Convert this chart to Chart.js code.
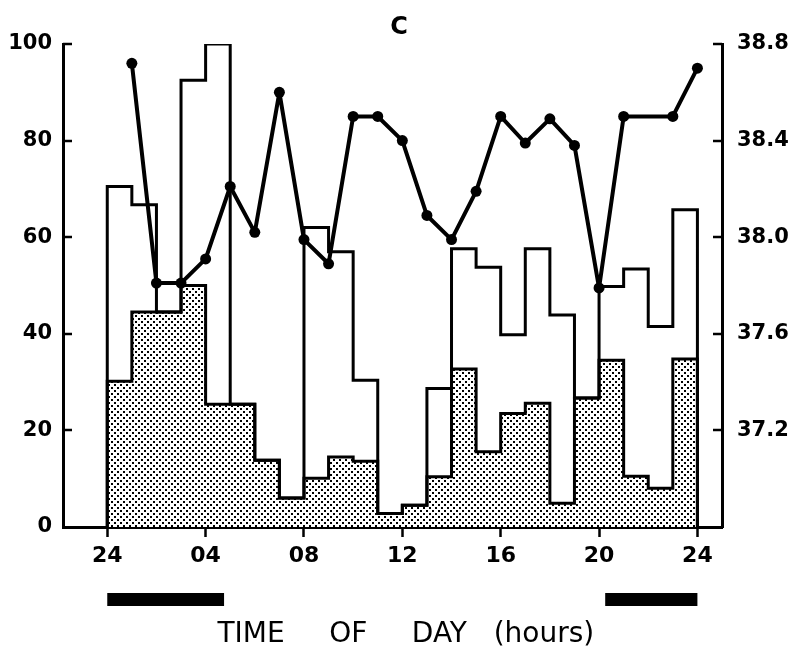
<!DOCTYPE html>
<html><head><meta charset="utf-8">
<script src="https://cdn.jsdelivr.net/npm/chart.js@4.4.0/dist/chart.umd.min.js"></script>
<style>html,body{margin:0;padding:0;background:#fff;}</style>
</head><body>
<canvas id="c" width="798" height="657"></canvas>
<script>
// ---- data ----
const binStartHours = [0,1,2,3,4,5,6,7,8,9,10,11,12,13,14,15,16,17,18,19,20,21,22,23];
const totalCounts  = [70.5,66.7,44.5,92.5,100,25.4,13.8,6.0,62.0,57.0,30.4,2.8,4.5,28.7,57.6,53.8,39.8,57.6,43.9,26.7,49.8,53.4,41.5,65.7];
const shadedCounts = [30.2,44.5,44.5,50.0,25.4,25.4,13.8,6.0,10.1,14.5,13.6,2.8,4.5,10.4,32.7,15.6,23.5,25.6,4.9,26.7,34.5,10.5,8.0,34.8];
const tempHours    = [1,2,3,4,5,6,7,8,9,10,11,12,13,14,15,16,17,18,19,20,21,23,24];
const temperatures = [38.72,37.81,37.81,37.91,38.21,38.02,38.60,37.99,37.89,38.50,38.50,38.40,38.09,37.99,38.19,38.50,38.39,38.49,38.38,37.79,38.50,38.50,38.70];
const xTickValues  = [0,4,8,12,16,20,24];
const xTickLabels  = ['24','04','08','12','16','20','24'];
const darkPeriods  = [[0,4.75],[20.25,24]];
const panelTitle   = 'C';
const xAxisTitle   = '   TIME     OF     DAY   (hours)';

// ---- helpers ----
function stepOutline(values){
  const last = binStartHours.length - 1;
  const pts = [{x: binStartHours[0], y: 0}];
  values.forEach((v,i) => pts.push({x: binStartHours[i], y: v}));
  pts.push({x: binStartHours[last] + 1, y: values[last]});
  pts.push({x: binStartHours[last] + 1, y: 0});
  return pts;
}
function stipple(){
  const c = document.createElement('canvas');
  c.width = 6; c.height = 6;
  const g = c.getContext('2d');
  g.fillStyle = '#fff'; g.fillRect(0,0,6,6);
  g.fillStyle = '#000';
  g.fillRect(0,0,2,2); g.fillRect(3,3,2,2);
  return g.createPattern(c,'repeat');
}
const pattern = stipple();

const extras = {
  id: 'extras',
  afterDraw(chart){
    const ctx = chart.ctx, ca = chart.chartArea;
    const x = chart.scales.x, y = chart.scales.y, y2 = chart.scales.y2;
    ctx.save();
    ctx.strokeStyle = '#000'; ctx.lineWidth = 2.5; ctx.lineCap = 'butt';
    y.ticks.forEach(t => {
      if (t.value <= 0) return;
      const py = Math.round(y.getPixelForValue(t.value));
      ctx.beginPath(); ctx.moveTo(ca.left, py); ctx.lineTo(ca.left + 9, py); ctx.stroke();
    });
    y2.ticks.forEach(t => {
      if (t.value < 37) return;
      const py = Math.round(y2.getPixelForValue(t.value));
      ctx.beginPath(); ctx.moveTo(ca.right, py); ctx.lineTo(ca.right - 9, py); ctx.stroke();
    });
    ctx.fillStyle = '#000';
    darkPeriods.forEach(([a,b]) => {
      const xa = x.getPixelForValue(a), xb = x.getPixelForValue(b);
      ctx.fillRect(xa, ca.bottom + 66, xb - xa, 13);
    });
    ctx.restore();
  }
};

Chart.defaults.font.family = 'DejaVu Sans';
Chart.defaults.color = '#000';

new Chart(document.getElementById('c'), {
  type: 'line',
  data: {
    datasets: [
      {
        label: 'Body temperature',
        yAxisID: 'y2',
        data: tempHours.map((h,i) => ({x: h, y: temperatures[i]})),
        borderColor: '#000', borderWidth: 4, borderJoinStyle: 'round', borderCapStyle: 'round',
        pointRadius: 5.5, pointBackgroundColor: '#000', pointBorderColor: '#000', pointBorderWidth: 0,
        tension: 0, fill: false, order: 0
      },
      {
        label: 'Total',
        yAxisID: 'y',
        data: stepOutline(totalCounts),
        stepped: 'before',
        borderColor: '#000', borderWidth: 3, borderJoinStyle: 'miter',
        pointRadius: 0, fill: false, order: 1
      },
      {
        label: 'Shaded',
        yAxisID: 'y',
        data: stepOutline(shadedCounts),
        stepped: 'before',
        borderColor: '#000', borderWidth: 3, borderJoinStyle: 'miter',
        backgroundColor: pattern,
        pointRadius: 0, fill: 'origin', order: 2
      }
    ]
  },
  options: {
    responsive: false,
    animation: false,
    events: [],
    layout: { padding: 0 },
    plugins: {
      legend: { display: false },
      tooltip: { enabled: false },
      title: {
        display: true, text: panelTitle,
        font: { size: 24, weight: 'bold' },
        padding: { top: 13, bottom: 2.2 }
      }
    },
    scales: {
      x: {
        type: 'linear', min: -1.8, max: 25.0,
        afterBuildTicks: s => { s.ticks = xTickValues.map(v => ({value: v})); },
        afterFit: s => { s.height = 130; },
        ticks: {
          autoSkip: false, maxRotation: 0, padding: 6,
          font: { size: 22, weight: 'bold' },
          callback: v => { const i = xTickValues.indexOf(v); return i >= 0 ? xTickLabels[i] : ''; }
        },
        grid: { display: true, drawOnChartArea: false, drawTicks: true, tickLength: 10, tickColor: '#000', tickWidth: 2.5 },
        border: { display: true, color: '#000', width: 3 },
        title: { display: true, text: xAxisTitle, font: { size: 28 }, padding: { top: 0, bottom: 5 } }
      },
      y: {
        position: 'left', min: 0, max: 100,
        afterFit: s => { s.width = 63; },
        ticks: { stepSize: 20, padding: 11, font: { size: 21, weight: 'bold' } },
        grid: { display: false, drawTicks: false, tickLength: 0 },
        border: { display: true, color: '#000', width: 3 }
      },
      y2: {
        position: 'right', min: 36.8, max: 38.8,
        afterFit: s => { s.width = 76; },
        ticks: { stepSize: 0.4, padding: 15, font: { size: 21, weight: 'bold' },
          callback: v => v < 37 ? '' : Number(v).toFixed(1) },
        grid: { display: false, drawTicks: false, tickLength: 0 },
        border: { display: true, color: '#000', width: 3 }
      }
    }
  },
  plugins: [extras]
});
</script>
</body></html>
